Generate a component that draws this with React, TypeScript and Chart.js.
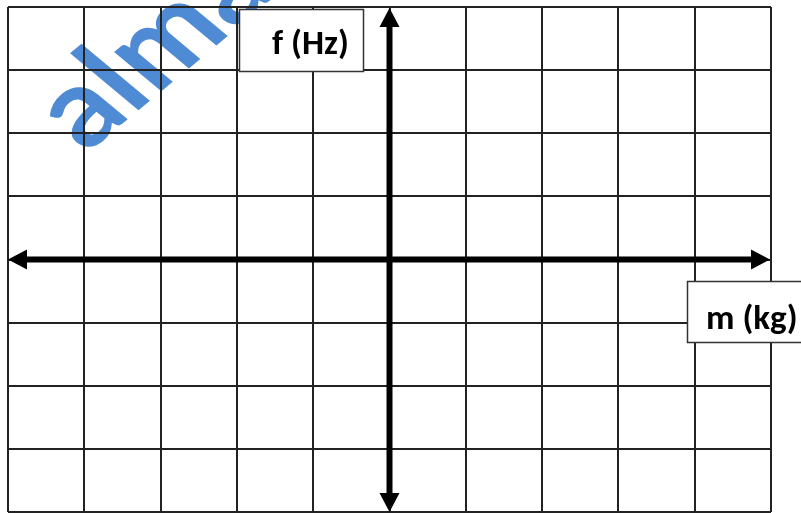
import React, { useEffect, useRef } from "react";
import { Chart, registerables } from "chart.js";

Chart.register(...registerables);

const X_RANGE = [-5, 5];
const Y_RANGE = [-4, 4];
const X_LABEL = "m (kg)";
const Y_LABEL = "f (Hz)";
const WATERMARK = "almanahj";

const W = 801;
const H = 513;

const drawPlugin = {
  id: "customDraw",
  beforeDraw(chart: any) {
    const ctx = chart.ctx;
    ctx.save();
    ctx.fillStyle = "#ffffff";
    ctx.fillRect(0, 0, chart.width, chart.height);
    // watermark: rotated -45deg, page squashed vertically
    ctx.setTransform(0.72, -0.6, 0.72, 0.6, 86, 154);
    ctx.fillStyle = "#4f8bd4";
    ctx.font = "bold 128px Lato, 'Liberation Sans', Arial, sans-serif";
    ctx.textBaseline = "alphabetic";
    ctx.textAlign = "left";
    ctx.fillText(WATERMARK, 0, 0);
    ctx.restore();
  },
  afterDraw(chart: any) {
    const ctx = chart.ctx;
    const xs = chart.scales.x;
    const ys = chart.scales.y;
    const x0 = xs.getPixelForValue(0);
    const y0 = ys.getPixelForValue(0);
    const xl = xs.getPixelForValue(X_RANGE[0]);
    const xr = xs.getPixelForValue(X_RANGE[1]) - 1;
    const yt = ys.getPixelForValue(Y_RANGE[1]) + 1;
    const yb = ys.getPixelForValue(Y_RANGE[0]);
    const head = 19;
    const half = 10;
    ctx.save();
    ctx.strokeStyle = "#000";
    ctx.fillStyle = "#000";
    ctx.lineWidth = 6;
    ctx.lineCap = "butt";
    ctx.beginPath();
    ctx.moveTo(xl + head - 2, y0);
    ctx.lineTo(xr - head + 2, y0);
    ctx.moveTo(x0, yt + head - 2);
    ctx.lineTo(x0, yb - head + 2);
    ctx.stroke();
    const tri = (pts: number[][]) => {
      ctx.beginPath();
      ctx.moveTo(pts[0][0], pts[0][1]);
      ctx.lineTo(pts[1][0], pts[1][1]);
      ctx.lineTo(pts[2][0], pts[2][1]);
      ctx.closePath();
      ctx.fill();
    };
    tri([[xl, y0], [xl + head, y0 - half], [xl + head, y0 + half]]);
    tri([[xr, y0], [xr - head, y0 - half], [xr - head, y0 + half]]);
    tri([[x0, yt], [x0 - half, yt + head], [x0 + half, yt + head]]);
    tri([[x0, yb], [x0 - half, yb - head], [x0 + half, yb - head]]);

    // label boxes
    const box = (x: number, y: number, w: number, h: number, text: string, tx: number, ty: number) => {
      ctx.fillStyle = "#fff";
      ctx.fillRect(x, y, w, h);
      ctx.strokeStyle = "#333";
      ctx.lineWidth = 1.5;
      ctx.strokeRect(x, y, w, h);
      ctx.fillStyle = "#000";
      ctx.font = "bold 35px Carlito, Lato, 'Open Sans', sans-serif";
      ctx.textAlign = "left";
      ctx.textBaseline = "alphabetic";
      ctx.fillText(text, tx, ty);
    };
    box(239.5, 9.5, 124, 62, Y_LABEL, 272, 54);
    box(687.5, 281.5, 130, 61, X_LABEL, 706, 329);
    ctx.restore();
  },
};

export default function App() {
  const ref = useRef<HTMLCanvasElement>(null);
  useEffect(() => {
    if (!ref.current) return;
    const chart = new Chart(ref.current, {
      type: "scatter",
      data: { datasets: [] },
      options: {
        animation: false,
        responsive: false,
        events: [],
        layout: { padding: { left: 8, right: 30, top: 7, bottom: 1 } },
        plugins: { legend: { display: false }, tooltip: { enabled: false } },
        scales: {
          x: {
            type: "linear",
            min: X_RANGE[0],
            max: X_RANGE[1],
            ticks: { display: false, stepSize: 1 },
            grid: { color: "#222", lineWidth: 2, drawTicks: false },
            border: { display: false },
          },
          y: {
            type: "linear",
            min: Y_RANGE[0],
            max: Y_RANGE[1],
            ticks: { display: false, stepSize: 1 },
            grid: { color: "#222", lineWidth: 2, drawTicks: false },
            border: { display: false },
          },
        },
      },
      plugins: [drawPlugin],
    });
    return () => chart.destroy();
  }, []);
  return (
    <div style={{ position: "absolute", left: 0, top: 0, width: W, height: H }}>
      <canvas ref={ref} width={W} height={H} style={{ display: "block" }} />
    </div>
  );
}
